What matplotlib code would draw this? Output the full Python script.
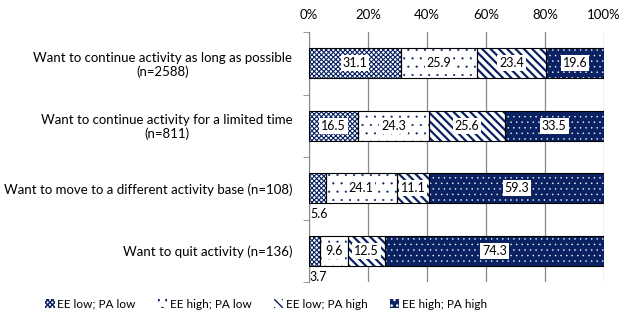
import numpy as np
import matplotlib.pyplot as plt
from matplotlib.patches import Patch

plt.rcParams['font.family'] = ['Lato', 'DejaVu Sans']

categories = ['Want to continue activity as long as possible\n(n=2588)',
              'Want to continue activity for a limited time\n(n=811)',
              'Want to move to a different activity base (n=108)',
              'Want to quit activity (n=136)']
series = ['EE low; PA low', 'EE high; PA low', 'EE low; PA high', 'EE high; PA high']
ee_low_pa_low = [31.1, 16.5, 5.6, 3.7]
ee_high_pa_low = [25.9, 24.3, 24.1, 9.6]
ee_low_pa_high = [23.4, 25.6, 11.1, 12.5]
ee_high_pa_high = [19.6, 33.5, 59.3, 74.3]
values = [ee_low_pa_low, ee_high_pa_low, ee_low_pa_high, ee_high_pa_high]

navy = '#0a2262'
# facecolor, hatch colour, hatch, hatch linewidth
styles = [('white', navy, 'xxxxxxx', 0.8),
          ('white', navy, '..', 0.3),
          ('white', navy, '\\\\\\\\', 1.6),
          (navy, 'white', '...', 0.3)]

fig = plt.figure(figsize=(6.27, 3.21), dpi=100)
ax = fig.add_axes([309 / 627, 1 - 282 / 321, 295 / 627, 250 / 321])

y = np.arange(len(categories))
left = np.zeros(len(categories))
h = 0.48
for vals, (fc, hc, hatch, hlw) in zip(values, styles):
    vals = np.array(vals)
    with plt.rc_context({'hatch.linewidth': hlw}):
        ax.barh(y, vals, left=left, height=h, color=fc, edgecolor=hc, hatch=hatch, linewidth=0, zorder=3)
    ax.barh(y, vals, left=left, height=h, fill=False, edgecolor='black', linewidth=0.8, zorder=4)
    for yi, l, v in zip(y, left, vals):
        if v < 8:
            ax.text(l + 0.3, yi + 0.42, f'{v:.1f}', ha='left', va='center', fontsize=9, zorder=5)
        else:
            ax.text(l + v / 2, yi, f'{v:.1f}', ha='center', va='center', fontsize=9, zorder=5,
                    bbox=dict(boxstyle='square,pad=0.15', fc='white', ec='none'))
    left += vals

ax.set_xlim(0, 100)
ax.set_ylim(len(categories) - 0.5, -0.5)
ax.set_xticks(range(0, 101, 20))
ax.set_xticklabels([f'{t}%' for t in range(0, 101, 20)], fontsize=9.5)
ax.xaxis.tick_top()
ax.tick_params(axis='x', length=0, pad=8)
ax.grid(axis='x', color='#888888', linewidth=0.9, zorder=0)
ax.set_yticks(y)
ax.set_yticklabels(categories, fontsize=9.5, multialignment='center', linespacing=1.1)
ax.tick_params(axis='y', length=0, pad=12)
ax.set_yticks(np.arange(-0.5, len(categories)), minor=True)
ax.tick_params(axis='y', which='minor', length=4, color='#888888')
for s in ['top', 'right', 'bottom']:
    ax.spines[s].set_visible(False)
ax.spines['left'].set_color('#888888')

handles = []
for fc, hc, hatch, hlw in styles:
    with plt.rc_context({'hatch.linewidth': hlw}):
        handles.append(Patch(facecolor=fc, edgecolor=hc, hatch=hatch, linewidth=0))
fig.legend(handles, series, loc='center', bbox_to_anchor=(266 / 627, 1 - 304 / 321), ncol=4,
           frameon=False, fontsize=8.5, handlelength=0.8, handleheight=0.8,
           columnspacing=1.9, handletextpad=0.2)

fig.savefig('out.png', dpi=100)
